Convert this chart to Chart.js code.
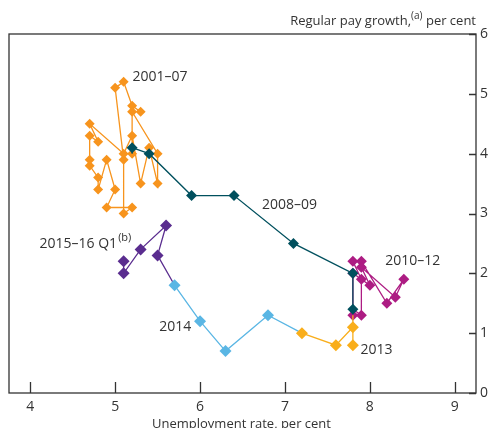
<!DOCTYPE html>
<html>
<head>
<meta charset="utf-8">
<script src="https://cdn.jsdelivr.net/npm/chart.js@4.4.1/dist/chart.umd.min.js"></script>
<style>
    html, body { margin: 0; padding: 0; background: #fff; }
    #c { display: block; }
</style>
</head>
<body>
<canvas id="c" width="493" height="428"></canvas>
<script>
(function () {

    // unemployment rate (x) and regular pay growth (y), per cent
    const unemp0107 = [5.3, 5.2, 5.1, 5.0, 5.1, 5.1, 5.2, 4.9, 5.0, 4.9, 4.8, 4.8, 4.7, 4.7, 4.7, 4.8, 4.7, 5.1, 5.2, 5.3, 5.4, 5.5, 5.5, 5.2, 5.2];
    const pay0107   = [4.7, 4.8, 5.2, 5.1, 3.9, 3.0, 3.1, 3.1, 3.4, 3.9, 3.4, 3.6, 3.8, 3.9, 4.3, 4.2, 4.5, 4.0, 4.3, 3.5, 4.1, 3.5, 4.0, 4.7, 4.0];

    const unemp0809 = [5.2, 5.4, 5.9, 6.4, 7.1, 7.8, 7.8];
    const pay0809   = [4.1, 4.0, 3.3, 3.3, 2.5, 2.0, 1.4];

    const unemp1012 = [7.9, 7.9, 7.8, 7.9, 8.2, 8.4, 8.3, 7.9, 8.0, 7.8, 7.8];
    const pay1012   = [1.3, 1.9, 2.2, 2.2, 1.5, 1.9, 1.6, 2.1, 1.8, 2.0, 1.3];

    const unemp13 = [7.8, 7.8, 7.6, 7.2];
    const pay13   = [0.8, 1.1, 0.8, 1.0];

    const unemp14 = [6.8, 6.3, 6.0, 5.7];
    const pay14   = [1.3, 0.7, 1.2, 1.8];

    const unemp1516 = [5.5, 5.6, 5.3, 5.1, 5.1];
    const pay1516   = [2.3, 2.8, 2.4, 2.0, 2.2];

    const xTicks = [4, 5, 6, 7, 8, 9];
    const yTicks = [0, 1, 2, 3, 4, 5, 6];

    const seriesNames = ['2001–07', '2008–09', '2010–12', '2013', '2014', '2015–16 Q1'];

    const textCol = '#333333';
    const font = '"Open Sans", "Liberation Sans", sans-serif';

    let pts = function (xs, ys) {
        return xs.map(function (x, i) {
            return {x: x, y: ys[i]};
        });
    };

    // each period starts its line from the last point of the period before
    let series = function (label, xs, ys, prev, color, radius, order) {
        let data = pts(xs, ys);
        let radii = data.map(function () { return radius; });
        if (prev) {
            data.unshift(prev);
            radii.unshift(0);
        }
        return {
            label: label,
            data: data,
            showLine: true,
            borderColor: color,
            backgroundColor: color,
            borderWidth: 1.3,
            pointStyle: 'rectRot',
            pointRadius: radii,
            pointBorderWidth: 0,
            pointHoverRadius: radii,
            order: order
        };
    };

    let last = function (xs, ys) {
        return {x: xs[xs.length - 1], y: ys[ys.length - 1]};
    };

    const datasets = [
        series(seriesNames[0], unemp0107, pay0107, null, '#F7941D', 5, 3),
        series(seriesNames[1], unemp0809, pay0809, last(unemp0107, pay0107), '#00505E', 5.5, 0),
        series(seriesNames[2], unemp1012, pay1012, last(unemp0809, pay0809), '#AD1C83', 5.5, 2),
        series(seriesNames[3], unemp13, pay13, last(unemp1012, pay1012), '#F9AE1B', 6, 1),
        series(seriesNames[4], unemp14, pay14, last(unemp13, pay13), '#5AB6E4', 6, 1),
        series(seriesNames[5], unemp1516, pay1516, last(unemp14, pay14), '#5A2D8F', 6, 1)
    ];

    // text labels anchored in data units
    const notes = [
        {text: seriesNames[0], x: 5.205, y: 5.28},
        {text: seriesNames[1], x: 6.73, y: 3.14},
        {text: seriesNames[5], sup: '(b)', x: 4.11, y: 2.49},
        {text: seriesNames[2], x: 8.18, y: 2.21},
        {text: seriesNames[4], x: 5.52, y: 1.1},
        {text: seriesNames[3], x: 7.89, y: 0.72}
    ];

    let decor = {
        id: 'decor',
        afterDraw: function (chart) {
            const ctx = chart.ctx;
            const a = chart.chartArea;
            const xs = chart.scales.x;
            const ys = chart.scales.y;

            ctx.save();
            ctx.strokeStyle = '#333333';
            ctx.lineWidth = 1.3;
            ctx.strokeRect(a.left, a.top, a.right - a.left, a.bottom - a.top);

            ctx.beginPath();
            xTicks.forEach(function (v) {
                const px = Math.round(xs.getPixelForValue(v)) + 0.5;
                ctx.moveTo(px, a.bottom);
                ctx.lineTo(px, a.bottom - 11);
            });
            yTicks.forEach(function (v) {
                const py = Math.round(ys.getPixelForValue(v)) + 0.5;
                ctx.moveTo(a.right, py);
                ctx.lineTo(a.right - 7, py);
            });
            ctx.stroke();

            ctx.fillStyle = textCol;
            ctx.textBaseline = 'middle';
            ctx.textAlign = 'left';
            notes.forEach(function (n) {
                const px = xs.getPixelForValue(n.x);
                const py = ys.getPixelForValue(n.y);
                ctx.font = '14px ' + font;
                ctx.fillText(n.text, px, py);
                if (n.sup) {
                    const w = ctx.measureText(n.text).width;
                    ctx.font = '11px ' + font;
                    ctx.fillText(n.sup, px + w + 1, py - 6);
                }
            });

            // y axis title, top right
            ctx.textBaseline = 'alphabetic';
            ctx.font = '13px ' + font;
            const t1 = 'Regular pay growth,';
            const t2 = ' per cent';
            ctx.font = '10px ' + font;
            const wSup = ctx.measureText('(a)').width;
            ctx.font = '13px ' + font;
            const w1 = ctx.measureText(t1).width;
            const w2 = ctx.measureText(t2).width;
            let x0 = a.right - (w1 + wSup + w2);
            ctx.fillText(t1, x0, 25);
            ctx.font = '10px ' + font;
            ctx.fillText('(a)', x0 + w1, 19);
            ctx.font = '13px ' + font;
            ctx.fillText(t2, x0 + w1 + wSup, 25);

            // x axis title
            ctx.textAlign = 'center';
            ctx.fillText('Unemployment rate, per cent', (a.left + a.right) / 2 - 1, 428);
            ctx.restore();
        }
    };

    const config = {
        type: 'scatter',
        data: {datasets: datasets},
        options: {
            responsive: false,
            animation: false,
            devicePixelRatio: 1,
            layout: {padding: {top: 34, left: 9, right: 0, bottom: 0}},
            scales: {
                x: {
                    type: 'linear',
                    position: 'bottom',
                    min: 3.75,
                    max: 9.25,
                    afterBuildTicks: function (s) {
                        s.ticks = xTicks.map(function (v) { return {value: v}; });
                    },
                    afterFit: function (s) { s.height = 35; },
                    grid: {display: false, drawTicks: false},
                    border: {display: false},
                    ticks: {padding: 6, color: textCol, font: {family: font, size: 14}}
                },
                y: {
                    type: 'linear',
                    position: 'right',
                    min: 0,
                    max: 6,
                    afterBuildTicks: function (s) {
                        s.ticks = yTicks.map(function (v) { return {value: v}; });
                    },
                    afterFit: function (s) { s.width = 17; },
                    grid: {display: false, drawTicks: false},
                    border: {display: false},
                    ticks: {padding: 4, color: textCol, font: {family: font, size: 14}}
                }
            },
            plugins: {
                legend: {display: false},
                title: {display: false},
                tooltip: {enabled: false}
            }
        },
        plugins: [decor]
    };

    const myChart = new Chart(document.getElementById('c').getContext('2d'), config);

})();
</script>
</body>
</html>
